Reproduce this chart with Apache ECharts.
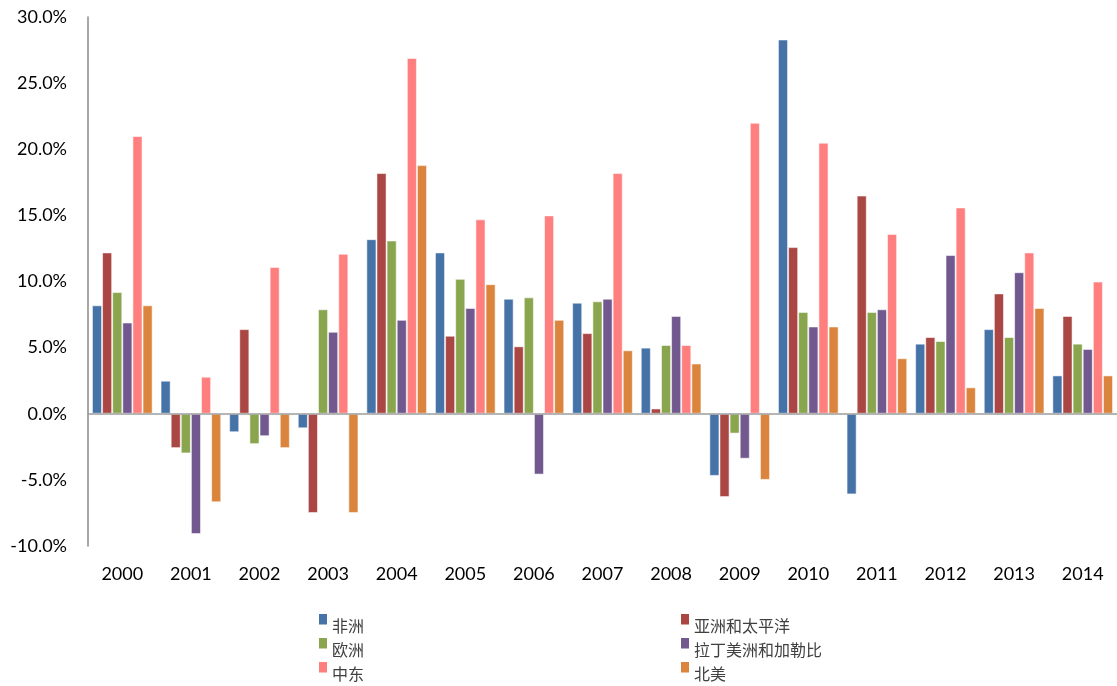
<!DOCTYPE html>
<html>
<head>
<meta charset="utf-8">
<title>各地区年度增长率 2000–2014</title>
<script src="https://cdn.jsdelivr.net/npm/echarts@6/dist/echarts.min.js"></script>
<style>
  html, body { margin: 0; padding: 0; background: #ffffff; }
  #chart { width: 1117px; height: 686px; }
</style>
</head>
<body>
<div id="chart"></div>
<script>
// Years on the category axis
const years = ['2000', '2001', '2002', '2003', '2004', '2005', '2006', '2007',
               '2008', '2009', '2010', '2011', '2012', '2013', '2014'];

// Annual growth rate per region, in percent
const africa       = [8.2, 2.5, -1.4, -1.1, 13.2, 12.2, 8.7, 8.4, 5.0, -4.7, 28.3, -6.1, 5.3, 6.4, 2.9];
const asiaPacific  = [12.2, -2.6, 6.4, -7.5, 18.2, 5.9, 5.1, 6.1, 0.4, -6.3, 12.6, 16.5, 5.8, 9.1, 7.4];
const europe       = [9.2, -3.0, -2.3, 7.9, 13.1, 10.2, 8.8, 8.5, 5.2, -1.5, 7.7, 7.7, 5.5, 5.8, 5.3];
const latinAmerica = [6.9, -9.1, -1.7, 6.2, 7.1, 8.0, -4.6, 8.7, 7.4, -3.4, 6.6, 7.9, 12.0, 10.7, 4.9];
const middleEast   = [21.0, 2.8, 11.1, 12.1, 26.9, 14.7, 15.0, 18.2, 5.2, 22.0, 20.5, 13.6, 15.6, 12.2, 10.0];
const northAmerica = [8.2, -6.7, -2.6, -7.5, 18.8, 9.8, 7.1, 4.8, 3.8, -5.0, 6.6, 4.2, 2.0, 8.0, 2.9];

// Series names, in bar order within each year
const seriesNames = ['非洲', '亚洲和太平洋', '欧洲', '拉丁美洲和加勒比', '中东', '北美'];
const seriesData  = [africa, asiaPacific, europe, latinAmerica, middleEast, northAmerica];
const seriesColors = ['#4572A7', '#AA4643', '#89A54E', '#71588F', '#FF7F7F', '#DB843D'];

// Legend columns
const legendLeftColumn  = ['非洲', '欧洲', '中东'];
const legendRightColumn = ['亚洲和太平洋', '拉丁美洲和加勒比', '北美'];

// Y axis range and step (percent)
const yMin = -10, yMax = 30, yStep = 5;

const latinFont = 'Lato, "Open Sans", "Liberation Sans", sans-serif';
const cjkFont = '"Noto Sans CJK SC", "Noto Sans", sans-serif';

// Legend marker: small square sitting at the top of a taller (invisible) box,
// so the text lines up slightly below the square
const legendIcon = 'path://M0,0L8,0L8,10.5L0,10.5Z M0,23L8,23';

const series = seriesNames.map((name, i) => ({
  name: name,
  type: 'bar',
  data: seriesData[i],
  barGap: '0%',
  barCategoryGap: '11.5%',
  itemStyle: {
    color: seriesColors[i],
    borderColor: 'rgba(255,255,255,0.55)',
    borderWidth: 1
  },
  emphasis: { disabled: true }
}));

// Horizontal line at zero
series[0].markLine = {
  silent: true,
  symbol: 'none',
  label: { show: false },
  lineStyle: { color: '#9d9d9d', width: 1.5, type: 'solid' },
  data: [{ yAxis: 0 }],
  animation: false
};

const legendCommon = {
  orient: 'vertical',
  top: 614,
  padding: 0,
  itemWidth: 8,
  itemHeight: 23,
  itemGap: 1,
  icon: legendIcon,
  itemStyle: { borderWidth: 0 },
  selectedMode: false,
  textStyle: { fontFamily: cjkFont, fontSize: 16, color: '#404040' }
};

const option = {
  backgroundColor: '#ffffff',
  animation: false,
  color: seriesColors,
  grid: { left: 88, right: 0, top: 17, bottom: 140, containLabel: false },
  legend: [
    Object.assign({}, legendCommon, { left: 319, data: legendLeftColumn }),
    Object.assign({}, legendCommon, { left: 681, data: legendRightColumn })
  ],
  xAxis: {
    type: 'category',
    data: years,
    axisLine: { show: false, onZero: false },
    axisTick: { show: false },
    axisLabel: {
      margin: 19,
      fontFamily: latinFont,
      fontSize: 18,
      color: '#000000'
    },
    splitLine: { show: false }
  },
  yAxis: {
    type: 'value',
    min: yMin,
    max: yMax,
    interval: yStep,
    axisLine: { show: true, lineStyle: { color: '#8a8a8a', width: 1.5 } },
    axisTick: { show: false },
    splitLine: { show: false },
    axisLabel: {
      margin: 21,
      fontFamily: latinFont,
      fontSize: 18,
      color: '#000000',
      formatter: v => v.toFixed(1) + '%'
    }
  },
  series: series
};

const chart = echarts.init(document.getElementById('chart'), null, { renderer: 'canvas' });
chart.setOption(option);
</script>
</body>
</html>
